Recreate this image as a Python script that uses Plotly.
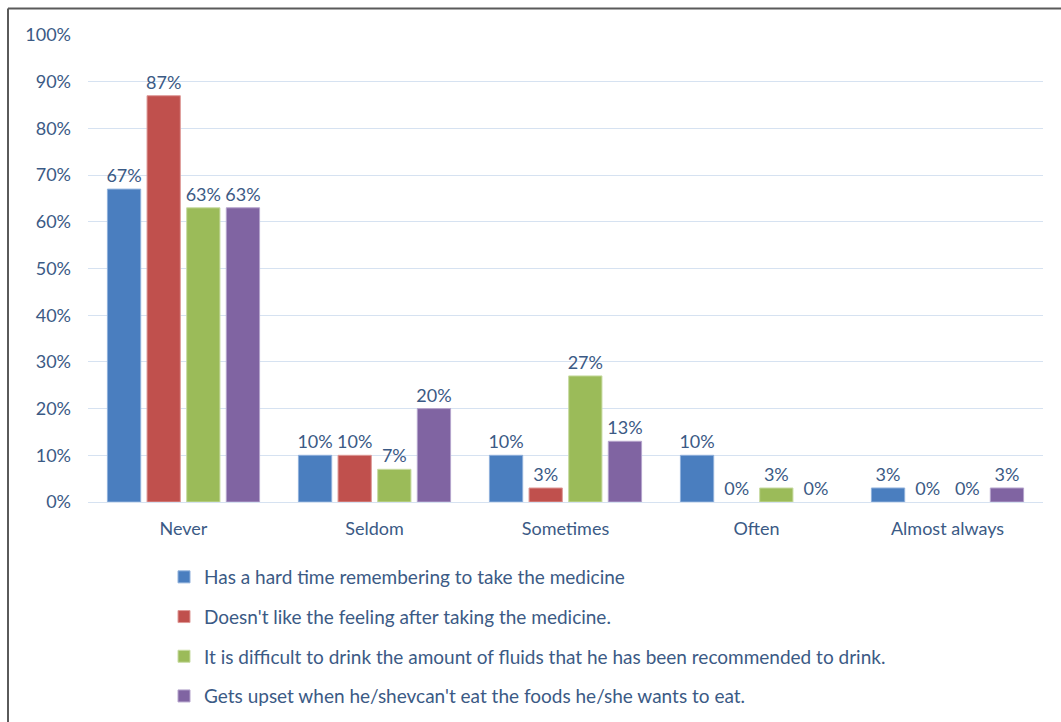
import plotly.graph_objects as go

categories = ["Never", "Seldom", "Sometimes", "Often", "Almost always"]

series_names = [
    "Has a hard time remembering to take the medicine",
    "Doesn't like the feeling after taking the medicine.",
    "It is difficult to drink the amount of fluids that he has been recommended to drink.",
    "Gets upset when he/shevcan't eat the foods he/she wants to eat.",
]

remembering = [67, 10, 10, 10, 3]
feeling = [87, 10, 3, 0, 0]
fluids = [63, 7, 27, 3, 0]
foods = [63, 20, 13, 0, 3]

series_values = [remembering, feeling, fluids, foods]

fill_colors = ["#4A7EBF", "#C0504D", "#9BBB59", "#8064A2"]
edge_colors = ["#8FB0DB", "#DE9A98", "#C8DBA3", "#B5A4CC"]

tick_vals = [0, 10, 20, 30, 40, 50, 60, 70, 80, 90, 100]
tick_text = [f"{v}%" for v in tick_vals]

TEXT = "#3B5A85"
FONT = "Lato, 'Open Sans', sans-serif"
FS = 18
LEG_FS = 19

W, H = 1061, 722
ML, MR, MT, MB = 88, 18, 35, 220

fig = go.Figure()
for name, vals, fc, ec in zip(series_names, series_values, fill_colors, edge_colors):
    fig.add_trace(go.Bar(
        name=name,
        x=categories,
        y=vals,
        text=[f"{v}%" for v in vals],
        textposition="outside",
        constraintext="none",
        cliponaxis=False,
        textfont=dict(size=FS, color=TEXT, family=FONT),
        marker=dict(color=fc,
                    line=dict(color=ec, width=[1 if v > 0 else 0 for v in vals])),
        legendgroup=name,
    ))

# chart frame along the left and top edges
pw = W - ML - MR
ph = H - MT - MB
def px_x(p):
    return (p - ML) / pw
def px_y(p):
    return (H - MB - p) / ph

fig.add_shape(type="line", xref="paper", yref="paper",
              x0=px_x(8), x1=px_x(W + 5), y0=px_y(8.5), y1=px_y(8.5),
              line=dict(color="#5A5A5A", width=2))
fig.add_shape(type="line", xref="paper", yref="paper",
              x0=px_x(8), x1=px_x(8), y0=px_y(8.5), y1=px_y(H + 5),
              line=dict(color="#5A5A5A", width=2))

fig.update_layout(
    width=W, height=H,
    margin=dict(l=ML, r=MR, t=MT, b=MB, autoexpand=False),
    paper_bgcolor="white",
    plot_bgcolor="white",
    barmode="group",
    bargap=0.17,
    bargroupgap=0.16,
    font=dict(family=FONT, size=FS, color=TEXT),
    showlegend=True,
    legend=dict(
        x=px_x(164), y=px_y(558), xanchor="left", yanchor="top",
        orientation="v", traceorder="grouped", tracegroupgap=12,
        font=dict(size=LEG_FS, color=TEXT, family=FONT),
        itemwidth=30,
        bgcolor="rgba(0,0,0,0)",
    ),
    xaxis=dict(
        showgrid=False,
        showline=True, linecolor="#D6E2F1", linewidth=1,
        ticks="", ticklabelstandoff=10,
        tickfont=dict(size=FS, color=TEXT, family=FONT),
        fixedrange=True,
    ),
    yaxis=dict(
        range=[0, 100],
        tickvals=tick_vals, ticktext=tick_text,
        showgrid=True, gridcolor="#D6E2F1", gridwidth=1,
        zeroline=False, showline=False,
        ticks="", ticklabelstandoff=16,
        tickfont=dict(size=FS, color=TEXT, family=FONT),
        fixedrange=True,
    ),
)

fig.write_html("out.html")
